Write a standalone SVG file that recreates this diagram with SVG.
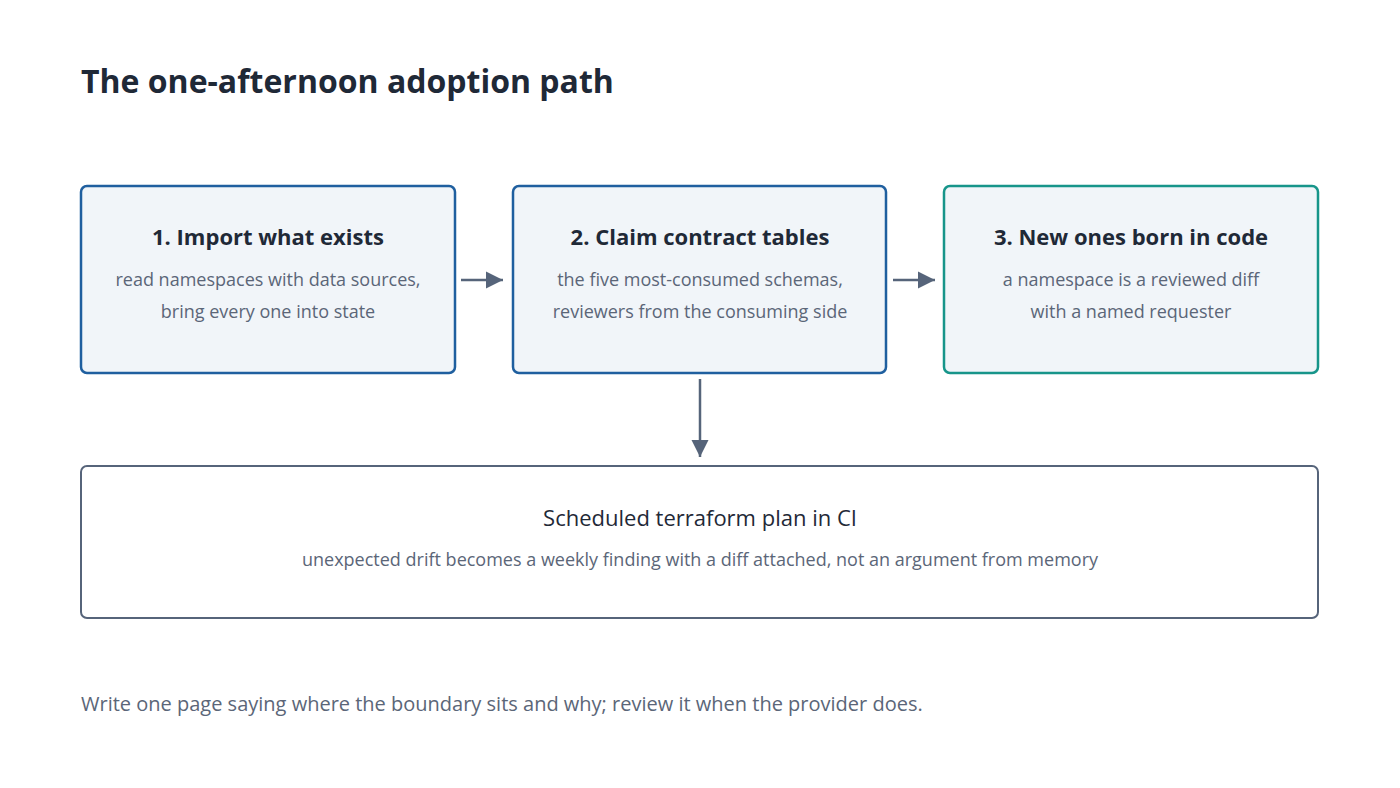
<svg xmlns="http://www.w3.org/2000/svg" width="1400" height="788" viewBox="0 0 1400 788">
<style>
text{font-family:"Open Sans","Noto Sans",sans-serif}
.box{fill:#f1f5f9;stroke:#1f5f9f;stroke-width:2.5}
.green{stroke:#17958a}
.t{font-size:22px;font-weight:bold;fill:#1f2937;text-anchor:middle}
.d{font-size:18px;fill:#5b6678;text-anchor:middle}
.c{stroke:#56647a;stroke-width:2.5;fill:none}
</style>
<defs><marker id="a" viewBox="0 0 10 10" refX="10" refY="5" markerWidth="7" markerHeight="7" orient="auto" markerUnits="strokeWidth"><path d="M0,0L10,5L0,10z" fill="#56647a"/></marker></defs>
<rect width="1400" height="788" fill="#fff"/>
<text x="81" y="93" font-size="32" font-weight="bold" fill="#1f2937">The one-afternoon adoption path</text>
<g id="n1"><rect class="box" x="81" y="186" width="374" height="187" rx="6"/><text class="t" x="268" y="245">1. Import what exists</text><text class="d" x="268" y="286">read namespaces with data sources,</text><text class="d" x="268" y="318">bring every one into state</text></g>
<g id="n2"><rect class="box" x="513" y="186" width="373" height="187" rx="6"/><text class="t" x="700" y="245">2. Claim contract tables</text><text class="d" x="700" y="286">the five most-consumed schemas,</text><text class="d" x="700" y="318">reviewers from the consuming side</text></g>
<g id="n3"><rect class="box green" x="944" y="186" width="374" height="187" rx="6"/><text class="t" x="1131" y="245">3. New ones born in code</text><text class="d" x="1131" y="286">a namespace is a reviewed diff</text><text class="d" x="1131" y="318">with a named requester</text></g>
<g id="n4"><rect x="81" y="466" width="1237" height="152" rx="6" fill="#fff" stroke="#56647a" stroke-width="2"/><text x="700" y="526" font-size="22" fill="#1f2937" text-anchor="middle">Scheduled terraform plan in CI</text><text class="d" x="700" y="566">unexpected drift becomes a weekly finding with a diff attached, not an argument from memory</text></g>
<g id="connectors"><path class="c" d="M461,280H503" marker-end="url(#a)"/><path class="c" d="M893,280H935" marker-end="url(#a)"/><path class="c" d="M700,379V457" marker-end="url(#a)"/></g>
<text x="81" y="711" font-size="20" fill="#5b6678">Write one page saying where the boundary sits and why; review it when the provider does.</text>
</svg>
